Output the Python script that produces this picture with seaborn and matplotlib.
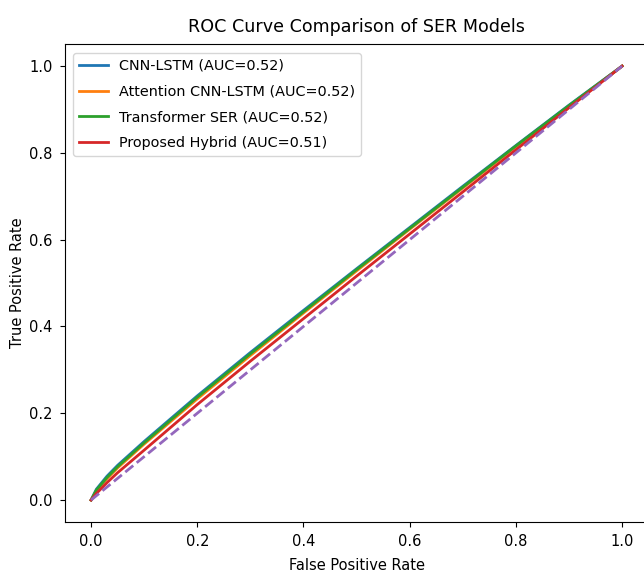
import matplotlib
matplotlib.use("Agg")
import matplotlib.pyplot as plt
import seaborn as sns
import pandas as pd

# false positive rate sample points (shared)
fpr = [0.0, 0.01, 0.03, 0.05, 0.1, 0.2, 0.3, 0.4, 0.5, 0.6, 0.7, 0.8, 0.9, 1.0]

# true positive rate
tpr_cnn_lstm = [0.0, 0.025, 0.055, 0.080, 0.135, 0.240, 0.340, 0.437, 0.533, 0.628, 0.723, 0.817, 0.910, 1.0]
tpr_att_cnn_lstm = [0.0, 0.021, 0.049, 0.074, 0.129, 0.233, 0.333, 0.431, 0.528, 0.624, 0.719, 0.814, 0.907, 1.0]
tpr_transformer = [0.0, 0.023, 0.052, 0.077, 0.132, 0.237, 0.337, 0.434, 0.531, 0.626, 0.721, 0.816, 0.909, 1.0]
tpr_hybrid = [0.0, 0.015, 0.040, 0.063, 0.115, 0.220, 0.320, 0.418, 0.516, 0.613, 0.710, 0.807, 0.904, 1.0]

models = ["CNN-LSTM", "Attention CNN-LSTM", "Transformer SER", "Proposed Hybrid"]
aucs = [0.52, 0.52, 0.52, 0.51]
tprs = [tpr_cnn_lstm, tpr_att_cnn_lstm, tpr_transformer, tpr_hybrid]

rows = []
for name, auc, tpr in zip(models, aucs, tprs):
    for x, y in zip(fpr, tpr):
        rows.append({"fpr": x, "tpr": y, "model": f"{name} (AUC={auc:.2f})"})
df = pd.DataFrame(rows)

plt.rcParams["font.size"] = 10.5
plt.rcParams["xtick.major.pad"] = 5
plt.rcParams["ytick.major.pad"] = 5

fig = plt.figure(figsize=(6.44, 5.73), dpi=100)
ax = fig.add_axes([0.1002, 0.0895, 0.907, 0.833])

sns.lineplot(data=df, x="fpr", y="tpr", hue="model", palette="tab10",
             linewidth=2, ax=ax, sort=False, estimator=None)
ax.plot([0, 1], [0, 1], linestyle="--", color="tab:purple", linewidth=2)

ax.set_xlim(-0.05, 1.05)
ax.set_ylim(-0.05, 1.05)
ax.set_title("ROC Curve Comparison of SER Models", fontsize=12.6, pad=9)
ax.set_xlabel("False Positive Rate", labelpad=7)
ax.set_ylabel("True Positive Rate", labelpad=3)
ax.legend(loc="upper left", title=None, fontsize=10.4, labelspacing=0.82,
          borderaxespad=0.6)

fig.savefig("out.png", dpi=100)
